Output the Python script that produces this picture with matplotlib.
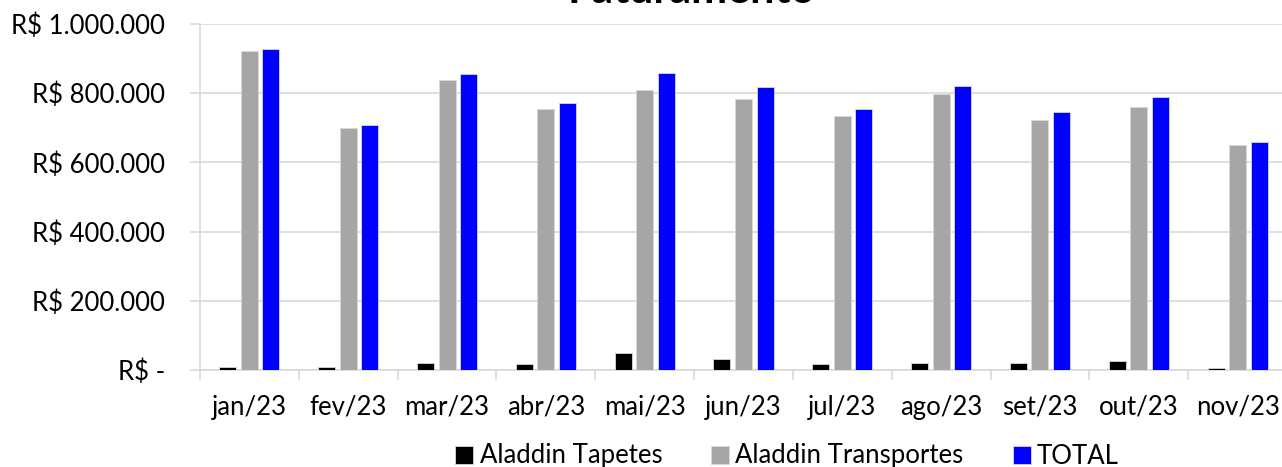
import matplotlib
matplotlib.use('Agg')
import matplotlib.pyplot as plt
import numpy as np
from matplotlib.ticker import FuncFormatter

# Dados
meses = ['jan/23', 'fev/23', 'mar/23', 'abr/23', 'mai/23', 'jun/23',
         'jul/23', 'ago/23', 'set/23', 'out/23', 'nov/23']
tapetes = [8000, 8000, 19000, 17000, 50000, 31000, 17000, 20000, 20000, 26000, 5000]
transportes = [921000, 698000, 837000, 754000, 809000, 784000, 733000, 799000, 723000, 761000, 651000]
total = [927000, 707000, 856000, 771000, 859000, 817000, 754000, 821000, 745000, 789000, 658000]

plt.rcParams['font.family'] = ['Lato', 'DejaVu Sans']

fig = plt.figure(figsize=(12.82, 4.67), dpi=100)
ax = fig.add_axes([200/1282, 1-370/467, 1087/1282, 346/467])

x = np.arange(len(meses))
w = 0.172
d = 0.218

ax.bar(x - d, tapetes, w, color='black', edgecolor='#d9d9d9', linewidth=0.6, label='Aladdin Tapetes', zorder=3)
ax.bar(x, transportes, w, color='#a6a6a6', edgecolor='#d9d9d9', linewidth=0.6, label='Aladdin Transportes', zorder=3)
ax.bar(x + d, total, w, color='#0000ff', edgecolor='#d9d9d9', linewidth=0.6, label='TOTAL', zorder=3)

ax.set_xlim(-0.5, len(meses) - 0.5)
ax.set_ylim(0, 1000000)
ax.set_yticks(np.arange(0, 1000001, 200000))

def reais(v, pos):
    if v == 0:
        return 'R$ -'
    return 'R$ ' + f'{int(v):,}'.replace(',', '.')

ax.yaxis.set_major_formatter(FuncFormatter(reais))
ax.set_xticks(x)
ax.set_xticklabels(meses)
ax.set_xticks(np.arange(-0.5, len(meses), 1), minor=True)

# Grade e eixos
ax.grid(axis='y', color='#d9d9d9', linewidth=1.2, zorder=0)
for s in ['top', 'right']:
    ax.spines[s].set_visible(False)
ax.spines['left'].set_color('#d9d9d9')
ax.spines['bottom'].set_color('#d9d9d9')
ax.spines['left'].set_linewidth(1.2)
ax.spines['bottom'].set_linewidth(1.2)

ax.tick_params(axis='y', length=7, color='#d9d9d9', width=1.2, pad=18, labelsize=18.5)
ax.tick_params(axis='x', which='major', length=0, pad=18, labelsize=18.5)
ax.tick_params(axis='x', which='minor', length=7, color='#d9d9d9', width=1.2)

# Título (cortado no topo, como no original)
fig.text(692/1282, 1-3/467, 'Faturamento', ha='center', va='baseline',
         fontsize=31, fontweight='bold')

fig.legend(loc='center', bbox_to_anchor=(787/1282, 1-456/467), ncol=3, frameon=False,
           fontsize=18.5, handlelength=0.7, handleheight=0.7, handletextpad=0.25,
           columnspacing=1.9)

fig.savefig('out.png', dpi=100)
